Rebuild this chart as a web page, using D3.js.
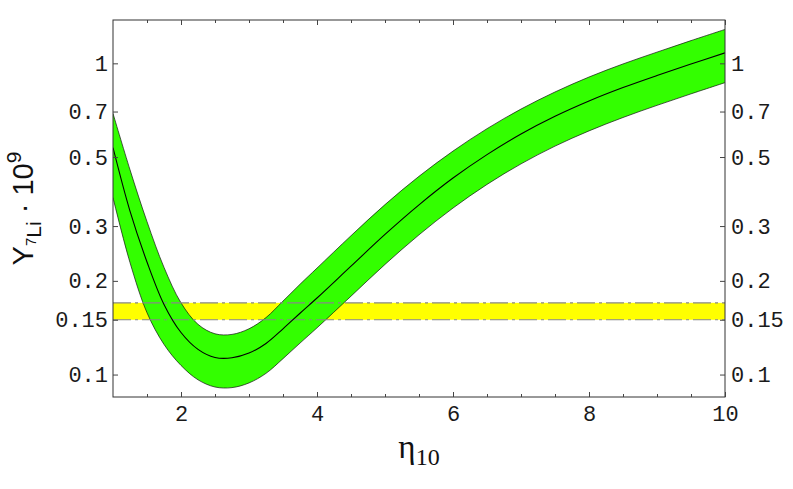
<!DOCTYPE html>
<html>
<head>
<meta charset="utf-8">
<script src="https://cdn.jsdelivr.net/npm/d3@7"></script>
<style>
  body { margin: 0; background: #fff; }
  .tick text { font-family: "Liberation Mono", "DejaVu Sans Mono", monospace; font-size: 22px; fill: #1a1a1a; }
  .tick line { stroke: #444; }
</style>
</head>
<body>
<div id="chart"></div>
<script>
// eta_10 grid and the 7Li abundance band (units of 1e-9)
var eta = [1, 1.25, 1.5, 1.75, 2, 2.25, 2.5, 2.75, 3, 3.25, 3.5, 3.75, 4, 4.5, 5, 5.5, 6, 6.5, 7, 7.5, 8, 8.5, 9, 9.5, 10];
var liCentral = [0.536, 0.335, 0.230, 0.168, 0.1365, 0.1205, 0.1135, 0.1132, 0.1172, 0.1259, 0.1403, 0.1574, 0.1762, 0.223, 0.282, 0.351, 0.428, 0.509, 0.593, 0.676, 0.757, 0.836, 0.914, 0.995, 1.081];
var liUpper = [0.69, 0.455, 0.31, 0.221, 0.17, 0.145, 0.1352, 0.1346, 0.1403, 0.1524, 0.1722, 0.195, 0.2198, 0.2793, 0.3516, 0.4335, 0.5224, 0.6166, 0.7129, 0.809, 0.9036, 0.9954, 1.0864, 1.183, 1.285];
var liLower = [0.37, 0.229, 0.158, 0.125, 0.107, 0.0962, 0.0912, 0.0908, 0.0940, 0.1009, 0.1125, 0.1262, 0.1413, 0.1786, 0.2259, 0.2812, 0.3428, 0.4083, 0.4753, 0.542, 0.6067, 0.6699, 0.7328, 0.798, 0.867];

// observed band
var obsBand = [0.15, 0.17];

// axes
var xDomain = [1, 10];
var yDomain = [0.0847, 1.378];
var xMajor = [2, 4, 6, 8, 10];
var xMinor = [1.5, 2.5, 3, 3.5, 4.5, 5, 5.5, 6.5, 7, 7.5, 8.5, 9, 9.5];
var yTicks = [1, 0.7, 0.5, 0.3, 0.2, 0.15, 0.1];
var yTickLabels = ["1", "0.7", "0.5", "0.3", "0.2", "0.15", "0.1"];

var svgWidth = 793;
var svgHeight = 489;
var margin = { top: 20, right: 68, bottom: 92, left: 113 };
var chartWidth = svgWidth - margin.left - margin.right;
var chartHeight = svgHeight - margin.top - margin.bottom;

var svg = d3.select("#chart").append("svg")
  .attr("width", svgWidth)
  .attr("height", svgHeight);

var chartGroup = svg.append("g")
  .attr("transform", `translate(${margin.left}, ${margin.top})`);

var xScale = d3.scaleLinear().domain(xDomain).range([0, chartWidth]);
var yScale = d3.scaleLog().domain(yDomain).range([chartHeight, 0]);

chartGroup.append("clipPath").attr("id", "plotClip")
  .append("rect").attr("width", chartWidth).attr("height", chartHeight);

var plot = chartGroup.append("g").attr("clip-path", "url(#plotClip)");

// yellow observational band
plot.append("rect")
  .attr("x", 0)
  .attr("width", chartWidth)
  .attr("y", yScale(obsBand[1]))
  .attr("height", yScale(obsBand[0]) - yScale(obsBand[1]))
  .attr("fill", "#ffff00");

var pts = eta.map((e, i) => ({ eta: e, c: liCentral[i], hi: liUpper[i], lo: liLower[i] }));
var curve = d3.curveCatmullRom;

var area = d3.area()
  .x(d => xScale(d.eta))
  .y0(d => yScale(d.lo))
  .y1(d => yScale(d.hi))
  .curve(curve);

plot.append("path").datum(pts)
  .attr("d", area)
  .attr("fill", "#33ff00");

["hi", "lo"].forEach(function (k) {
  plot.append("path").datum(pts)
    .attr("d", d3.line().x(d => xScale(d.eta)).y(d => yScale(d[k])).curve(curve))
    .attr("fill", "none")
    .attr("stroke", "#111")
    .attr("stroke-width", 0.7);
});

// dash-dot edges of the observed band
obsBand.forEach(function (v) {
  plot.append("line")
    .attr("x1", 0).attr("x2", chartWidth)
    .attr("y1", yScale(v)).attr("y2", yScale(v))
    .attr("stroke", "#888")
    .attr("stroke-width", 1.1)
    .attr("stroke-dasharray", "18,4,3,4");
});

plot.append("path").datum(pts)
  .attr("d", d3.line().x(d => xScale(d.eta)).y(d => yScale(d.c)).curve(curve))
  .attr("fill", "none")
  .attr("stroke", "#000")
  .attr("stroke-width", 1.1);

// frame
chartGroup.append("rect")
  .attr("width", chartWidth)
  .attr("height", chartHeight)
  .attr("fill", "none")
  .attr("stroke", "#333")
  .attr("stroke-width", 1);

// ticks (pointing inward)
function addAxis(axis, transform) {
  var g = chartGroup.append("g").attr("transform", transform).call(axis);
  g.select(".domain").remove();
  return g;
}

addAxis(d3.axisBottom(xScale).tickValues(xMajor).tickSize(-5).tickPadding(8).tickFormat(d3.format("d")),
  `translate(0, ${chartHeight})`);
addAxis(d3.axisBottom(xScale).tickValues(xMinor).tickSize(-3).tickFormat(""),
  `translate(0, ${chartHeight})`);
addAxis(d3.axisTop(xScale).tickValues(xMajor).tickSize(-5).tickFormat(""), "translate(0, 0)");
addAxis(d3.axisTop(xScale).tickValues(xMinor).tickSize(-3).tickFormat(""), "translate(0, 0)");

var yFmt = (d, i) => yTickLabels[i];
addAxis(d3.axisLeft(yScale).tickValues(yTicks).tickSize(-5).tickPadding(5).tickFormat(yFmt), "translate(0, 0)");
addAxis(d3.axisRight(yScale).tickValues(yTicks).tickSize(-5).tickPadding(6).tickFormat(yFmt),
  `translate(${chartWidth}, 0)`);

// axis titles
var xTitle = svg.append("text")
  .attr("x", margin.left + chartWidth / 2)
  .attr("y", 458)
  .attr("text-anchor", "middle")
  .attr("font-family", "Liberation Serif, serif")
  .attr("font-size", 33)
  .attr("fill", "#111");
xTitle.append("tspan").text("η");
xTitle.append("tspan").attr("font-size", 24).attr("dy", 7).text("10");

var yTitle = svg.append("text")
  .attr("transform", `translate(33, ${margin.top + chartHeight / 2}) rotate(-90)`)
  .attr("text-anchor", "middle")
  .attr("font-family", "Liberation Sans, Arial, sans-serif")
  .attr("font-size", 29)
  .attr("fill", "#111");
yTitle.append("tspan").text("Y");
yTitle.append("tspan").attr("font-size", 15).attr("dy", 3).text("7");
yTitle.append("tspan").attr("font-size", 21).attr("dy", 5).text("Li");
yTitle.append("tspan").attr("dy", -8).text(" \u00b7 10");
yTitle.append("tspan").attr("font-size", 21).attr("dy", -12).text("9");
</script>
</body>
</html>
